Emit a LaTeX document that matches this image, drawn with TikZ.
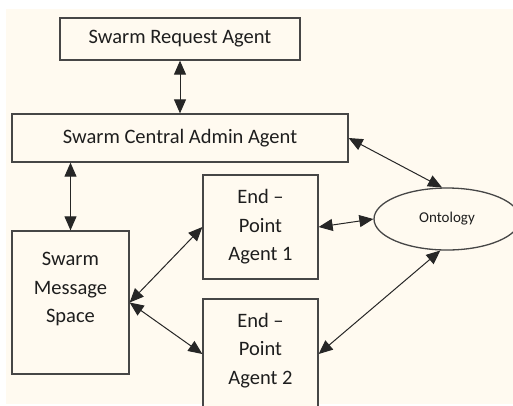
\documentclass[tikz,border=0pt]{standalone}
\usepackage{fontspec}
\setmainfont{Carlito}
\usetikzlibrary{arrows.meta,shapes.geometric}
\definecolor{paper}{RGB}{255,250,240}
\definecolor{ink}{RGB}{70,70,70}
\definecolor{txt}{RGB}{30,30,30}
\begin{document}
\begin{tikzpicture}[x=1pt,y=-1pt,
  box/.style={draw=ink, line width=1.3pt, fill=paper, inner sep=0pt},
  lbl/.style={font=\fontsize{20.5}{28.5}\selectfont, align=center, text=txt, inner sep=0pt},
  link/.style={draw=black!85, line width=1pt, {Triangle[length=14pt,width=12pt]}-{Triangle[length=14pt,width=12pt]}}]
\useasboundingbox (0,0) rectangle (513,405);
\clip (0,0) rectangle (513,405);
\fill[white] (0,0) rectangle (513,405);
\fill[paper] (6,9) rectangle (513,404);

% agents
\node[box, lbl, minimum width=240pt, minimum height=42pt] (req) at (180,39) {Swarm Request Agent};
\node[box, lbl, minimum width=336pt, minimum height=48pt] (admin) at (180,138) {Swarm Central Admin Agent};
\node[box, minimum width=117pt, minimum height=143pt] (msg) at (70.5,302.5) {};
\node[lbl] (msgtext) at (70.5,289) {Swarm\\Message\\Space};
\node[box, lbl, minimum width=115pt, minimum height=104pt] (ep1) at (260.5,227) {End –\\Point\\Agent 1};
\node[box, minimum width=115pt, minimum height=110pt] (ep2) at (260.5,354) {};
\node[lbl] (ep2text) at (260.5,350.5) {End –\\Point\\Agent 2};
\node[box, ellipse, minimum width=146pt, minimum height=62pt, font=\fontsize{15}{18}\selectfont, text=txt] (ont) at (447,219) {Ontology};

% message links
\draw[link] (req.south) -- (admin.north);
\draw[link] (msg.north |- admin.south) -- (msg.north);
\draw[link] (admin.east) -- (ont.99);
\draw[link] (ep1.east) -- (ont.west);
\draw[link] (msg.east) -- (ep1.west);
\draw[link] (msg.east) -- (ep2.west);
\draw[link] (ep2.east) -- (ont.-102);
\end{tikzpicture}
\end{document}
